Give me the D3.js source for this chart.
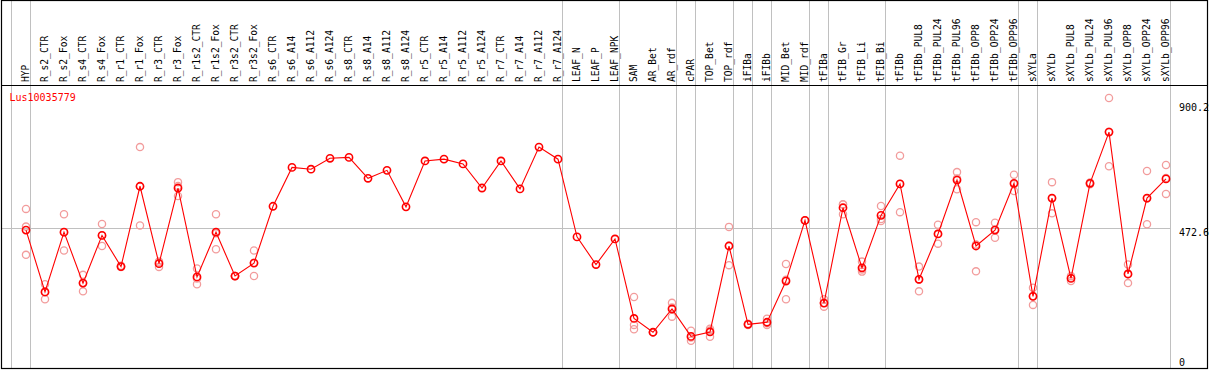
<!DOCTYPE html>
<html>
<head>
<meta charset="utf-8">
<script src="https://cdn.jsdelivr.net/npm/d3@7"></script>
<style>
  html, body { margin: 0; padding: 0; background: #fff; }
  svg { display: block; }
  text { font-family: "DejaVu Sans Mono", "Liberation Mono", monospace; }
</style>
</head>
<body>
<svg id="chart" width="1209" height="370"></svg>
<script>
const title = "Lus10035779";

const categories = [
  "HYP","R_s2_CTR","R_s2_Fox","R_s4_CTR","R_s4_Fox","R_r1_CTR","R_r1_Fox","R_r3_CTR","R_r3_Fox",
  "R_r1s2_CTR","R_r1s2_Fox","R_r3s2_CTR","R_r3s2_Fox",
  "R_s6_CTR","R_s6_A14","R_s6_A112","R_s6_A124",
  "R_s8_CTR","R_s8_A14","R_s8_A112","R_s8_A124",
  "R_r5_CTR","R_r5_A14","R_r5_A112","R_r5_A124",
  "R_r7_CTR","R_r7_A14","R_r7_A112","R_r7_A124",
  "LEAF_N","LEAF_P","LEAF_NPK","SAM","AR_Bet","AR_rdf","cPAR","TOP_Bet","TOP_rdf",
  "iFIBa","iFIBb","MID_Bet","MID_rdf","tFIBa","tFIB_Gr","tFIB_Li","tFIB_Bi","tFIBb",
  "tFIBb_PUL8","tFIBb_PUL24","tFIBb_PUL96","tFIBb_OPP8","tFIBb_OPP24","tFIBb_OPP96",
  "sXYLa","sXYLb","sXYLb_PUL8","sXYLb_PUL24","sXYLb_PUL96","sXYLb_OPP8","sXYLb_OPP24","sXYLb_OPP96"
];

const meanValues = [
  465, 255, 458, 285, 447, 341, 614, 351, 608,
  306, 458, 309, 353,
  546, 678, 672, 709,
  712, 641, 668, 544,
  700, 706, 690, 608,
  700, 605, 747, 706,
  442, 348, 435, 165, 118, 197, 104, 119, 411,
  145, 152, 292, 498, 217, 541, 337, 515, 622,
  298, 452, 635, 411, 465, 624,
  240, 574, 301, 624, 798, 316, 574, 639
];

const replicateValues = [
  [537, 477, 381], [281, 230, 254], [519, 396, 458], [313, 257, 285], [486, 411, 447],
  [344, 340, 341], [747, 481, 613], [358, 340, 355], [628, 581, 615],
  [335, 281, 301], [519, 400, 454], [309, 309, 309], [396, 309, 354],
  [], [], [], [],
  [], [], [], [],
  [], [], [], [],
  [], [], [], [],
  [], [], [],
  [238, 143, 128], [118, 118, 118], [218, 171, 202], [123, 89, 100], [130, 103, 124], [476, 346, 412],
  [147, 143, 145], [164, 143, 149], [350, 230, 296], [498, 498, 498], [230, 205, 217],
  [553, 519, 552], [358, 324, 331], [547, 496, 503], [718, 526, 622],
  [341, 257, 296], [483, 419, 453], [662, 604, 640], [492, 325, 416], [490, 439, 467], [653, 598, 621],
  [269, 211, 241], [628, 522, 572], [309, 292, 303], [627, 621, 624], [914, 682, 799],
  [348, 285, 315], [666, 485, 572], [686, 588, 642]
];

// gray separators are drawn just after these category indices (-1 = before first)
const groupBreaks = [-1, 0, 28, 31, 34, 35, 37, 38, 39, 41, 42, 45, 52, 53, 60];

const yTicks = [0, 472.6, 900.2];
const yTickLabels = ["0", "472.6", "900.2"];
const gridValues = [472.6];

const svg = d3.select("#chart");
const frameLeft = 1.5, frameRight = 1207.5, frameTop = 0.5, headerBottom = 85.5, frameBottom = 368.5;
const plotRight = 1170.5;

const x = d3.scaleLinear().domain([0, categories.length - 1]).range([26, 1166]);
const y = d3.scaleLinear().domain([0, 900.2]).range([367, 102]);

// vertical gray separators (full height)
svg.append("g").selectAll("line").data(groupBreaks).join("line")
  .attr("x1", d => Math.round(x(d) + 4) + 0.5)
  .attr("x2", d => Math.round(x(d) + 4) + 0.5)
  .attr("y1", frameTop).attr("y2", frameBottom)
  .attr("stroke", "#c0c0c0").attr("stroke-width", 1);

// horizontal gridline
svg.append("g").selectAll("line").data(gridValues).join("line")
  .attr("x1", frameLeft).attr("x2", plotRight)
  .attr("y1", d => Math.round(y(d)) + 0.5)
  .attr("y2", d => Math.round(y(d)) + 0.5)
  .attr("stroke", "#c0c0c0").attr("stroke-width", 1);

// frame
const frame = svg.append("g").attr("stroke", "#000").attr("stroke-width", 1.2).attr("fill", "none");
frame.append("rect").attr("x", frameLeft).attr("y", frameTop)
  .attr("width", frameRight - frameLeft).attr("height", frameBottom - frameTop);
frame.append("line").attr("x1", frameLeft).attr("x2", frameRight)
  .attr("y1", headerBottom).attr("y2", headerBottom);

// rotated category labels
svg.append("g").selectAll("text").data(categories).join("text")
  .attr("transform", (d, i) => `translate(${Math.round(x(i) + 3)},82) rotate(-90)`)
  .attr("text-anchor", "start")
  .attr("font-size", "9.6px")
  .attr("fill", "#000")
  .text(d => d);

// title
svg.append("text").attr("x", 9.5).attr("y", 100.5)
  .attr("font-size", "10px").attr("fill", "#ff0000").text(title);

// y tick labels on the right
svg.append("g").selectAll("text").data(yTicks).join("text")
  .attr("x", 1179)
  .attr("y", d => Math.min(y(d) + 8.5, 365.5))
  .attr("font-size", "10px").attr("fill", "#000")
  .text((d, i) => yTickLabels[i]);

// replicate circles
const reps = [];
replicateValues.forEach((arr, i) => arr.forEach(v => reps.push({ i, v })));
svg.append("g").selectAll("circle").data(reps).join("circle")
  .attr("cx", d => x(d.i)).attr("cy", d => y(d.v)).attr("r", 3.6)
  .attr("fill", "none").attr("stroke", "#f29c9c").attr("stroke-width", 1.3);

// mean line
svg.append("path").datum(meanValues)
  .attr("d", d3.line().x((d, i) => x(i)).y(d => y(d)))
  .attr("fill", "none").attr("stroke", "#ff0000").attr("stroke-width", 1.1);

// mean circles
svg.append("g").selectAll("circle").data(meanValues).join("circle")
  .attr("cx", (d, i) => x(i)).attr("cy", d => y(d)).attr("r", 3.6)
  .attr("fill", "none").attr("stroke", "#ff0000").attr("stroke-width", 1.6);
</script>
</body>
</html>
